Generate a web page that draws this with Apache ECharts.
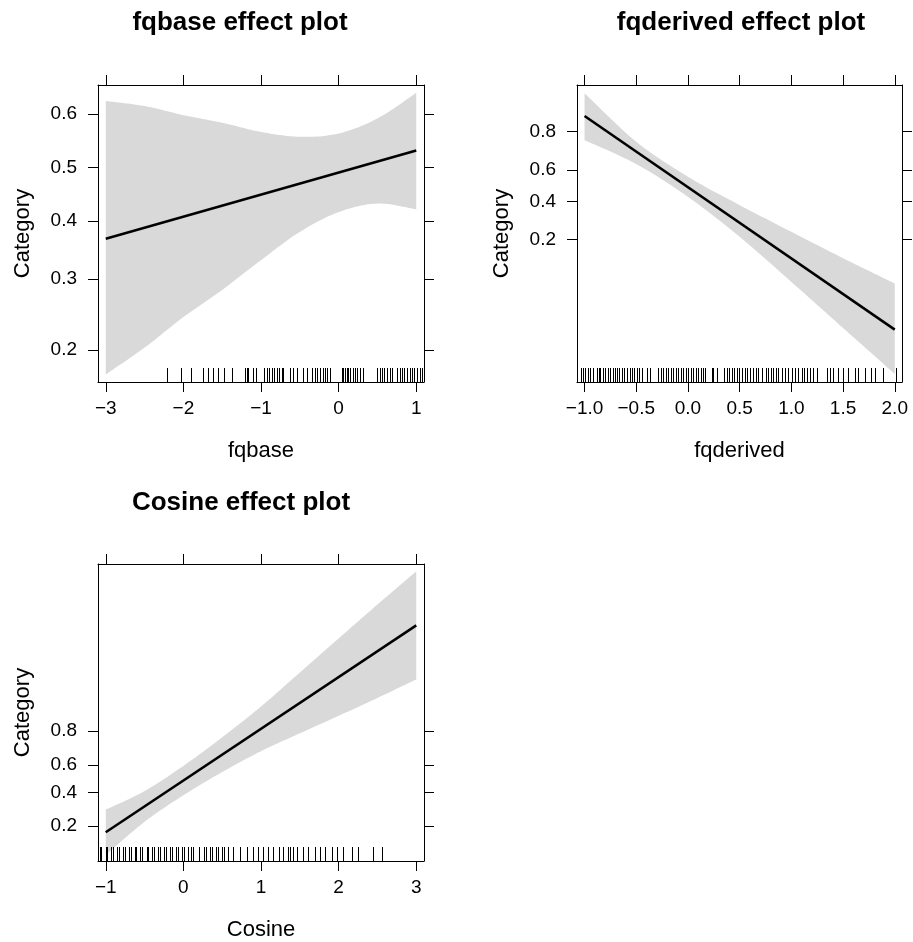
<!DOCTYPE html>
<html><head><meta charset="utf-8">
<script src="https://cdn.jsdelivr.net/npm/echarts@6/dist/echarts.min.js"></script>
<style>html,body{margin:0;padding:0;background:#fff}#c{width:913px;height:942px}</style>
</head><body><div id="c"></div>
<script>
// ---------- Panel 1: fqbase ----------
const fqbaseFitX = [-3, 1];
const fqbaseFitP = [0.368, 0.532];
const fqbaseBandX = [-3, -2.5, -2, -1.5, -1, -0.5, 0, 0.5, 1];
const fqbaseUpperP = [0.6235, 0.6145, 0.598, 0.584, 0.567, 0.558, 0.564, 0.592, 0.638];
const fqbaseLowerP = [0.172, 0.203, 0.243, 0.283, 0.331, 0.380, 0.416, 0.432, 0.421];
const fqbaseXTicks = [-3, -2, -1, 0, 1];
const fqbaseYTicks = [0.2, 0.3, 0.4, 0.5, 0.6];
const fqbaseRug = [-2.217, -2.037, -1.907, -1.744, -1.680, -1.615, -1.551, -1.477, -1.378,
  -1.206, -1.185, -1.163, -1.099, -1.065, -0.957, -0.927, -0.892, -0.862, -0.832, -0.798,
  -0.763, -0.733, -0.712, -0.626, -0.583, -0.540, -0.454, -0.411, -0.346, -0.303, -0.273,
  -0.239, -0.204, -0.174, -0.153, -0.110, 0.041, 0.062, 0.084, 0.105, 0.127, 0.148, 0.183,
  0.213, 0.243, 0.277, 0.320, 0.492, 0.527, 0.557, 0.587, 0.622, 0.656, 0.686, 0.751, 0.785,
  0.815, 0.845, 0.880, 0.914, 0.944, 0.974, 1.009, 1.043, 1.073];

// ---------- Panel 2: fqderived ----------
const fqderivedFitX = [-1, 2];
const fqderivedFitP = [0.857, 0.0240];
const fqderivedBandX = [-1, -0.5, 0, 0.5, 1, 1.5, 2];
const fqderivedUpperP = [0.9148, 0.7556, 0.5566, 0.3770, 0.2334, 0.1339, 0.0745];
const fqderivedLowerP = [0.763, 0.6349, 0.428, 0.2112, 0.0775, 0.02503, 0.0078];
const fqderivedXTicks = [-1, -0.5, 0, 0.5, 1, 1.5, 2];
const fqderivedYTicks = [0.2, 0.4, 0.6, 0.8];
const fqderivedRug = [-1.035, -1.016, -0.994, -0.971, -0.945, -0.920, -0.881, -0.865, -0.849,
  -0.823, -0.800, -0.778, -0.752, -0.726, -0.704, -0.688, -0.662, -0.639, -0.617, -0.591,
  -0.565, -0.543, -0.520, -0.495, -0.469, -0.446, -0.398, -0.366, -0.285, -0.263, -0.237,
  -0.211, -0.189, -0.166, -0.141, -0.115, -0.092, -0.070, -0.044, -0.018, 0.005, 0.027,
  0.053, 0.078, 0.101, 0.123, 0.149, 0.165, 0.230, 0.246, 0.278, 0.349, 0.374, 0.400,
  0.423, 0.445, 0.471, 0.497, 0.519, 0.551, 0.568, 0.600, 0.632, 0.658, 0.680, 0.712,
  0.754, 0.777, 0.799, 0.825, 0.851, 0.873, 0.906, 0.938, 0.970, 1.002, 1.034, 1.066,
  1.099, 1.121, 1.153, 1.179, 1.211, 1.244, 1.340, 1.373, 1.405, 1.453, 1.501, 1.549,
  1.614, 1.646, 1.710, 1.775, 1.807, 1.887, 2.010];

// ---------- Panel 3: Cosine ----------
const cosineFitX = [-1, 3];
const cosineFitP = [0.1735, 0.9887];
const cosineBandX = [-1, -0.5, 0, 0.5, 1, 1.5, 2, 2.5, 3];
const cosineUpperP = [0.2890, 0.4109, 0.5925, 0.7696, 0.8915, 0.9567, 0.98355, 0.99381, 0.99764];
const cosineLowerP = [0.0977, 0.2217, 0.3818, 0.5484, 0.6905, 0.7896, 0.8622, 0.9133, 0.9476];
const cosineXTicks = [-1, 0, 1, 2, 3];
const cosineYTicks = [0.2, 0.4, 0.6, 0.8];
const cosineRug = [-1.077, -1.056, -1.000, -0.983, -0.927, -0.905, -0.854, -0.828, -0.776,
  -0.755, -0.699, -0.677, -0.626, -0.604, -0.553, -0.527, -0.475, -0.454, -0.398, -0.381,
  -0.325, -0.303, -0.247, -0.226, -0.174, -0.153, -0.097, -0.075, -0.024, 0.006, 0.062,
  0.092, 0.127, 0.204, 0.265, 0.290, 0.342, 0.368, 0.419, 0.449, 0.492, 0.523, 0.578,
  0.643, 0.729, 0.815, 0.901, 0.966, 1.030, 1.095, 1.159, 1.237, 1.288, 1.353, 1.374,
  1.417, 1.460, 1.546, 1.611, 1.697, 1.761, 1.826, 1.912, 1.976, 2.062, 2.170, 2.256,
  2.449, 2.557];

const titles = ['fqbase effect plot', 'fqderived effect plot', 'Cosine effect plot'];
const xNames = ['fqbase', 'fqderived', 'Cosine'];
const yName = 'Category';

// ---------- helpers ----------
const FONT = '"Liberation Sans", Arial, Helvetica, sans-serif';
const logit = p => Math.log(p / (1 - p));
const invlogit = v => 1 / (1 + Math.exp(-v));

// Catmull-Rom smoothing of screen points (rendering only)
function smoothPts(pts, steps) {
  const out = [];
  const n = pts.length;
  for (let i = 0; i < n - 1; i++) {
    const p0 = pts[Math.max(0, i - 1)], p1 = pts[i], p2 = pts[i + 1], p3 = pts[Math.min(n - 1, i + 2)];
    for (let s = 0; s < steps; s++) {
      const t = s / steps, t2 = t * t, t3 = t2 * t;
      const f = k => 0.5 * ((2 * p1[k]) + (-p0[k] + p2[k]) * t +
        (2 * p0[k] - 5 * p1[k] + 4 * p2[k] - p3[k]) * t2 + (-p0[k] + 3 * p1[k] - 3 * p2[k] + p3[k]) * t3);
      out.push([f(0), f(1)]);
    }
  }
  out.push(pts[n - 1].slice());
  return out;
}

const panels = [
  {grid: {left: 98, top: 85, width: 326, height: 297}, xr: [-3.1, 1.1], yr: [-1.629, 0.626],
   fitX: fqbaseFitX, fitP: fqbaseFitP, bandX: fqbaseBandX, up: fqbaseUpperP, lo: fqbaseLowerP,
   xt: fqbaseXTicks, yt: fqbaseYTicks, rug: fqbaseRug, fmt: v => String(v).replace('-', '\u2212'),
   tx: 240, ty: 23},
  {grid: {left: 577, top: 85, width: 325, height: 297}, xr: [-1.073, 2.07], yr: [-5.052, 2.588],
   fitX: fqderivedFitX, fitP: fqderivedFitP, bandX: fqderivedBandX, up: fqderivedUpperP, lo: fqderivedLowerP,
   xt: fqderivedXTicks, yt: fqderivedYTicks, rug: fqderivedRug, fmt: v => v.toFixed(1).replace('-', '\u2212'),
   tx: 741, ty: 23},
  {grid: {left: 98, top: 564, width: 326, height: 297}, xr: [-1.1, 3.1], yr: [-2.399, 6.26],
   fitX: cosineFitX, fitP: cosineFitP, bandX: cosineBandX, up: cosineUpperP, lo: cosineLowerP,
   xt: cosineXTicks, yt: cosineYTicks, rug: cosineRug, fmt: v => String(v).replace('-', '\u2212'),
   tx: 241, ty: 503}
];

const grid = [], xAxis = [], yAxis = [], series = [], graphic = [];
const axLine = {show: true, onZero: false, lineStyle: {color: '#000', width: 1}};
const tickStyle = {color: '#000', width: 1};
const LABEL_SIZE = 19;

panels.forEach((p, gi) => {
  grid.push(Object.assign({containLabel: false, show: false}, p.grid));
  const xb = xAxis.length, yb = yAxis.length;
  xAxis.push({
    gridIndex: gi, type: 'value', position: 'bottom', min: p.xr[0], max: p.xr[1],
    name: xNames[gi], nameLocation: 'middle', nameGap: 58,
    nameTextStyle: {fontSize: 22, color: '#000', fontFamily: FONT},
    axisLine: axLine,
    axisTick: {show: true, inside: false, length: 10, customValues: p.xt, lineStyle: tickStyle},
    axisLabel: {show: true, customValues: p.xt, margin: 17, formatter: p.fmt, fontSize: LABEL_SIZE, color: '#000', fontFamily: FONT},
    splitLine: {show: false}
  });
  xAxis.push({
    gridIndex: gi, type: 'value', position: 'top', min: p.xr[0], max: p.xr[1],
    axisLine: axLine,
    axisTick: {show: true, inside: false, length: 10, customValues: p.xt, lineStyle: tickStyle},
    axisLabel: {show: false}, splitLine: {show: false}
  });
  const yv = p.yt.map(logit);
  yAxis.push({
    gridIndex: gi, type: 'value', position: 'left', min: p.yr[0], max: p.yr[1],
    name: yName, nameLocation: 'middle', nameGap: 64,
    nameTextStyle: {fontSize: 22, color: '#000', fontFamily: FONT},
    axisLine: axLine,
    axisTick: {show: true, inside: false, length: 10, customValues: yv, lineStyle: tickStyle},
    axisLabel: {show: true, customValues: yv, margin: 21, formatter: v => invlogit(v).toFixed(1),
      fontSize: LABEL_SIZE, color: '#000', fontFamily: FONT},
    splitLine: {show: false}
  });
  yAxis.push({
    gridIndex: gi, type: 'value', position: 'right', min: p.yr[0], max: p.yr[1],
    axisLine: axLine,
    axisTick: {show: true, inside: false, length: 10, customValues: yv, lineStyle: tickStyle},
    axisLabel: {show: false}, splitLine: {show: false}
  });

  // confidence band: one polygon through the library's coordinate mapping
  series.push({
    type: 'custom', xAxisIndex: xb, yAxisIndex: yb, silent: true, clip: true, z: 1,
    data: [[p.bandX[0], logit(p.lo[0])]],
    encode: {x: 0, y: 1},
    renderItem: (params, api) => {
      const upPts = p.bandX.map((x, i) => api.coord([x, logit(p.up[i])]));
      const loPts = p.bandX.map((x, i) => api.coord([x, logit(p.lo[i])]));
      const upS = smoothPts(upPts, 12);
      const loS = smoothPts(loPts, 12).reverse();
      return {type: 'polygon', shape: {points: upS.concat(loS)},
        style: {fill: '#d9d9d9', stroke: null}};
    }
  });
  series.push({
    type: 'line', xAxisIndex: xb, yAxisIndex: yb,
    data: p.fitX.map((x, i) => [x, logit(p.fitP[i])]),
    symbol: 'none', lineStyle: {color: '#000', width: 2.5}, silent: true, z: 3
  });
  series.push({
    type: 'custom', xAxisIndex: xb, yAxisIndex: yb, silent: true, clip: false, z: 2,
    data: p.rug.map(v => [v, 0]),
    encode: {x: 0, y: 1},
    renderItem: (params, api) => {
      const cs = params.coordSys;
      const px = Math.round(api.coord([api.value(0), api.value(1)])[0]) + 0.5;
      const bottom = cs.y + cs.height;
      return {type: 'line', shape: {x1: px, y1: bottom, x2: px, y2: bottom - 14},
        style: {stroke: '#000', lineWidth: 1}};
    }
  });
  graphic.push({
    type: 'text', x: p.tx, y: p.ty, silent: true,
    style: {text: titles[gi], font: 'bold 26px ' + FONT, fill: '#000',
      textAlign: 'center', textVerticalAlign: 'middle', align: 'center', verticalAlign: 'middle'}
  });
});

const chart = echarts.init(document.getElementById('c'), null, {renderer: 'canvas'});
chart.setOption({
  animation: false,
  backgroundColor: '#fff',
  grid, xAxis, yAxis, series, graphic
});
</script>
</body></html>
